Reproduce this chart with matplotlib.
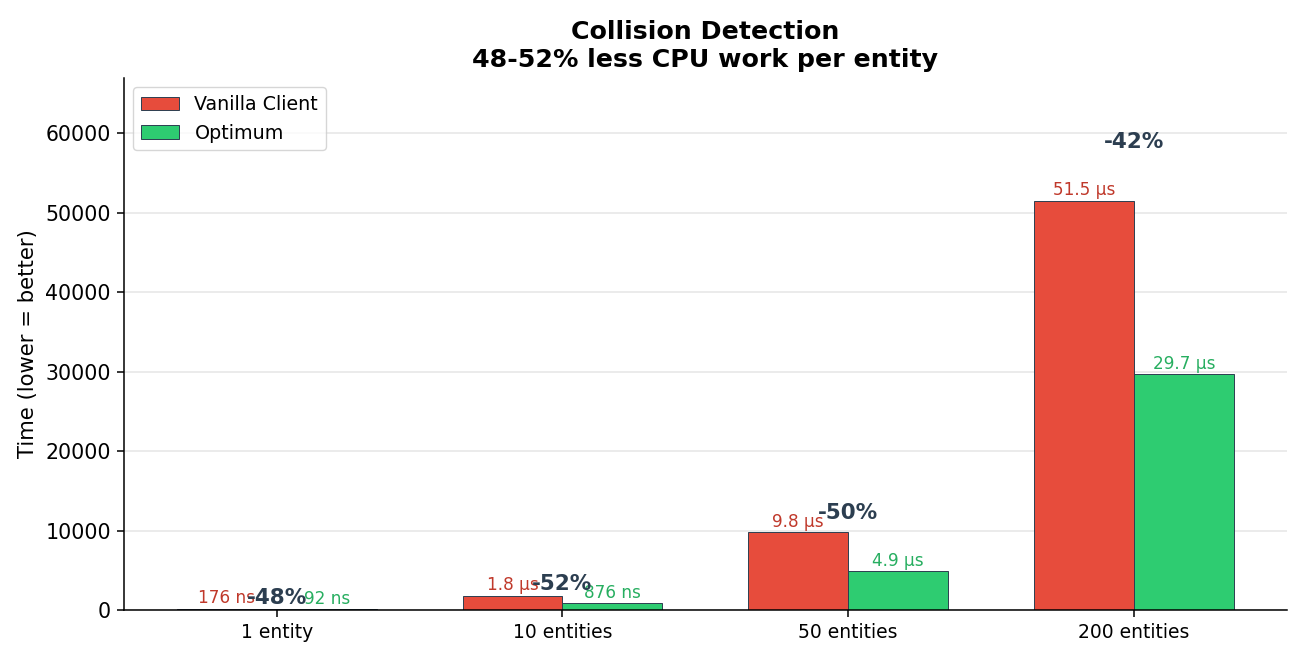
import numpy as np
import matplotlib
matplotlib.use("Agg")
from matplotlib import pyplot as plt

plt.rcParams["font.family"] = ["DejaVu Sans"]
plt.rcParams["axes.linewidth"] = 1.1
plt.rcParams["xtick.major.size"] = 4.7
plt.rcParams["ytick.major.size"] = 4.7
plt.rcParams["xtick.major.width"] = 1.1
plt.rcParams["ytick.major.width"] = 1.1
plt.rcParams["xtick.major.pad"] = 4.7
plt.rcParams["ytick.major.pad"] = 4.7

categories = ["1 entity", "10 entities", "50 entities", "200 entities"]
vanilla_ns = [176, 1800, 9800, 51500]
optimum_ns = [92, 876, 4900, 29700]
vanilla_labels = ["176 ns", "1.8 µs", "9.8 µs", "51.5 µs"]
optimum_labels = ["92 ns", "876 ns", "4.9 µs", "29.7 µs"]
reductions = ["-48%", "-52%", "-50%", "-42%"]

RED = "#e74c3c"
GREEN = "#2ecc71"
EDGE = "#2c3e50"

fig, ax = plt.subplots(figsize=(13.01, 6.58), dpi=100)
x = np.arange(len(categories))
w = 0.35

b1 = ax.bar(x - w / 2, vanilla_ns, w, label="Vanilla Client", color=RED,
            edgecolor=EDGE, linewidth=0.7)
b2 = ax.bar(x + w / 2, optimum_ns, w, label="Optimum", color=GREEN,
            edgecolor=EDGE, linewidth=0.7)

for bar, txt in zip(b1, vanilla_labels):
    ax.annotate(txt, (bar.get_x() + bar.get_width() / 2, bar.get_height()),
                xytext=(0, 1), textcoords="offset points", ha="center",
                va="bottom", fontsize=12.2, color="#c0392b")
for bar, txt in zip(b2, optimum_labels):
    ax.annotate(txt, (bar.get_x() + bar.get_width() / 2, bar.get_height()),
                xytext=(0, 1), textcoords="offset points", ha="center",
                va="bottom", fontsize=12.2, color="#27ae60")

for i, r in enumerate(reductions):
    top = max(vanilla_ns[i], optimum_ns[i])
    ax.text(x[i], top * 1.12, r, ha="center", va="bottom", fontsize=15.5,
            fontweight="bold", color=EDGE)

ax.set_xticks(x)
ax.set_xticklabels(categories, fontsize=13.5)
ax.tick_params(axis="y", labelsize=14.8)
ax.set_ylabel("Time (lower = better)", fontsize=15.2, labelpad=5.4)
ax.set_ylim(0, max(vanilla_ns) * 1.3)
ax.set_title("Collision Detection\n48-52% less CPU work per entity",
             fontsize=18.2, fontweight="bold", pad=8)
ax.yaxis.grid(True, color="#e6e6e6", linewidth=1.1)
ax.set_axisbelow(True)
ax.spines["top"].set_visible(False)
ax.spines["right"].set_visible(False)
ax.legend(loc="upper left", fontsize=13.7)

fig.subplots_adjust(left=0.0953, right=0.989, top=0.8815, bottom=0.073)
plt.savefig("out.png", dpi=100)
